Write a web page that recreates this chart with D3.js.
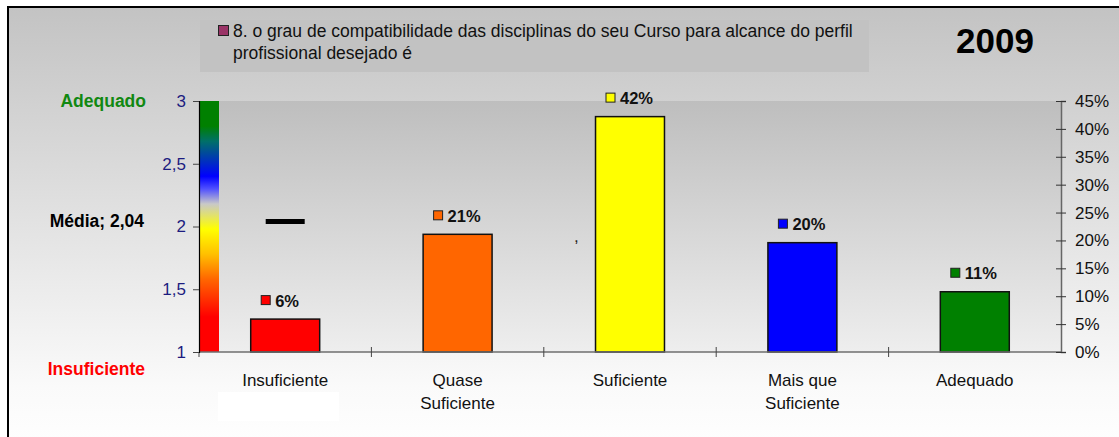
<!DOCTYPE html>
<html>
<head>
<meta charset="utf-8">
<script src="https://cdn.jsdelivr.net/npm/d3@7"></script>
<style>
  html, body { margin: 0; padding: 0; background: #fff; }
  svg { display: block; font-family: "Liberation Sans", Arial, sans-serif; }
</style>
</head>
<body>
<svg id="chart" width="1119" height="437"></svg>
<script>
// ---------- data ----------
const categories = ["Insuficiente", "Quase Suficiente", "Suficiente", "Mais que Suficiente", "Adequado"];
const categoryLines = [["Insuficiente"], ["Quase", "Suficiente"], ["Suficiente"], ["Mais que", "Suficiente"], ["Adequado"]];
const percentValues = [5.9, 21.1, 42.2, 19.6, 10.8];
const barColors = ["#ff0000", "#ff6600", "#ffff00", "#0000ff", "#008000"];
const leftTicks = [1, 1.5, 2, 2.5, 3];
const rightTicks = [0, 5, 10, 15, 20, 25, 30, 35, 40, 45];
const meanValue = 2.04;
const meanLabel = "Média; 2,04";
const topScaleLabel = "Adequado";
const bottomScaleLabel = "Insuficiente";
const legendLines = ["8. o grau de compatibilidade das disciplinas do seu Curso para alcance do perfil", "profissional desejado é"];
const yearLabel = "2009";

// ---------- layout ----------
const svg = d3.select("#chart");
const W = 1119, H = 437;
const plot = { left: 199, right: 1061, top: 101, bottom: 352 };

const defs = svg.append("defs");
const outerGrad = defs.append("linearGradient").attr("id", "outerGrad")
  .attr("x1", 0).attr("y1", 0).attr("x2", 0).attr("y2", 1);
outerGrad.append("stop").attr("offset", "0").attr("stop-color", "#c3c3c3");
outerGrad.append("stop").attr("offset", "0.85").attr("stop-color", "#fafafa");
outerGrad.append("stop").attr("offset", "1").attr("stop-color", "#ffffff");

const plotGrad = defs.append("linearGradient").attr("id", "plotGrad")
  .attr("x1", 0).attr("y1", 0).attr("x2", 0).attr("y2", 1);
plotGrad.append("stop").attr("offset", "0").attr("stop-color", "#bebebe");
plotGrad.append("stop").attr("offset", "1").attr("stop-color", "#eeeeee");

const scaleGrad = defs.append("linearGradient").attr("id", "scaleGrad")
  .attr("x1", 0).attr("y1", 0).attr("x2", 0).attr("y2", 1);
[[0, "#008000"], [0.10, "#008000"], [0.16, "#007068"], [0.30, "#0000ff"], [0.35, "#5050ff"],
 [0.41, "#c8c8c8"], [0.51, "#ffff00"], [0.61, "#ffc000"], [0.71, "#ff6600"], [0.86, "#ff0000"], [1, "#ff0000"]]
  .forEach(([o, c]) => scaleGrad.append("stop").attr("offset", o).attr("stop-color", c));

// background + frame
svg.append("rect").attr("x", 8).attr("y", 7).attr("width", W + 10).attr("height", H + 10)
  .attr("fill", "url(#outerGrad)").attr("stroke", "#000").attr("stroke-width", 2);

// legend box
svg.append("rect").attr("x", 200).attr("y", 20).attr("width", 669).attr("height", 52).attr("fill", "#c2c2c2");
svg.append("rect").attr("x", 218.5).attr("y", 25.5).attr("width", 10).attr("height", 10)
  .attr("fill", "#993366").attr("stroke", "#222").attr("stroke-width", 1);
legendLines.forEach((t, i) => {
  svg.append("text").attr("x", 233).attr("y", 37 + i * 22).attr("font-size", 17.5).attr("fill", "#111").text(t);
});
svg.append("text").attr("x", 995).attr("y", 53).attr("text-anchor", "middle")
  .attr("font-size", 35).attr("font-weight", "bold").attr("fill", "#000").text(yearLabel);

// plot area
svg.append("rect").attr("x", plot.left).attr("y", plot.top)
  .attr("width", plot.right - plot.left).attr("height", plot.bottom - plot.top).attr("fill", "url(#plotGrad)");

// scales
const x = d3.scaleBand().domain(categories).range([plot.left, plot.right]).paddingInner(0.6).paddingOuter(0.3);
const yL = d3.scaleLinear().domain([1, 3]).range([plot.bottom, plot.top]);
const yR = d3.scaleLinear().domain([0, 45]).range([plot.bottom, plot.top]);
const step = x.step();

// colour scale strip
svg.append("rect").attr("x", plot.left).attr("y", yL(3)).attr("width", 20).attr("height", yL(1) - yL(3))
  .attr("fill", "url(#scaleGrad)");

// white artefact under first category label
svg.append("rect").attr("x", 218).attr("y", 392).attr("width", 121).attr("height", 29).attr("fill", "#ffffff");

// bars
svg.selectAll("rect.bar").data(percentValues).join("rect").attr("class", "bar")
  .attr("x", (d, i) => x(categories[i]))
  .attr("y", d => yR(d))
  .attr("width", x.bandwidth())
  .attr("height", d => yR(0) - yR(d))
  .attr("fill", (d, i) => barColors[i])
  .attr("stroke", "#111").attr("stroke-width", 1.5);

// value labels
percentValues.forEach((d, i) => {
  const cx = x(categories[i]) + x.bandwidth() / 2;
  const cy = yR(d) - 18.5;
  const g = svg.append("g");
  g.append("rect").attr("x", cx - 24).attr("y", cy - 5).attr("width", 9).attr("height", 9)
    .attr("fill", barColors[i]).attr("stroke", "#222").attr("stroke-width", 1);
  g.append("text").attr("x", cx - 10).attr("y", cy + 6).attr("font-size", 16.5).attr("font-weight", "bold")
    .attr("fill", "#111").text(Math.round(d) + "%");
});

// mean marker
const mx = x(categories[0]) + x.bandwidth() / 2;
svg.append("line").attr("x1", mx - 19.5).attr("x2", mx + 19.5)
  .attr("y1", yL(meanValue)).attr("y2", yL(meanValue))
  .attr("stroke", "#000").attr("stroke-width", 5);

// x axis line + category ticks
svg.append("line").attr("x1", plot.left).attr("x2", plot.right).attr("y1", plot.bottom).attr("y2", plot.bottom)
  .attr("stroke", "#6e6e6e").attr("stroke-width", 1.5);
d3.range(categories.length).forEach(i => {
  const bx = x(categories[i]) + x.bandwidth() / 2 - step / 2;
  svg.append("line").attr("x1", bx).attr("x2", bx)
    .attr("y1", i === 0 ? plot.bottom : plot.bottom - 5).attr("y2", plot.bottom + 5)
    .attr("stroke", "#444").attr("stroke-width", 1);
});

// category labels
categoryLines.forEach((lines, i) => {
  const cx = x(categories[i]) + x.bandwidth() / 2;
  lines.forEach((t, j) => {
    svg.append("text").attr("x", cx).attr("y", 386 + j * 23).attr("text-anchor", "middle")
      .attr("font-size", 17).attr("fill", "#111").text(t);
  });
});

// left axis
const leftAxis = d3.axisLeft(yL).tickValues(leftTicks).tickSize(6).tickPadding(7)
  .tickFormat(d => String(d).replace(".", ","));
const gL = svg.append("g").attr("transform", `translate(${plot.left},0)`).call(leftAxis);
gL.select(".domain").attr("stroke", "#000").attr("stroke-width", 1.2);
gL.selectAll(".tick line").attr("stroke", "#444");
gL.selectAll(".tick text").attr("font-size", 17).attr("fill", "#1c1c80")
  .attr("font-family", "\"Liberation Sans\", Arial, sans-serif");

// right axis
const rightAxis = d3.axisRight(yR).tickValues(rightTicks).tickSize(5).tickPadding(9).tickFormat(d => d + "%");
const gR = svg.append("g").attr("transform", `translate(${plot.right},0)`).call(rightAxis);
gR.select(".domain").attr("stroke", "#666").attr("stroke-width", 1.5);
gR.selectAll(".tick line").attr("x1", -5).attr("stroke", "#333");
gR.selectAll(".tick text").attr("font-size", 17).attr("fill", "#111")
  .attr("font-family", "\"Liberation Sans\", Arial, sans-serif");

// left-side scale labels
svg.append("text").attr("x", 146).attr("y", yL(3) + 6).attr("text-anchor", "end")
  .attr("font-size", 17.5).attr("font-weight", "bold").attr("fill", "#118811").text(topScaleLabel);
svg.append("text").attr("x", 144).attr("y", yL(meanValue) + 6).attr("text-anchor", "end")
  .attr("font-size", 17.5).attr("font-weight", "bold").attr("fill", "#000").text(meanLabel);
svg.append("text").attr("x", 145).attr("y", 375).attr("text-anchor", "end")
  .attr("font-size", 17.5).attr("font-weight", "bold").attr("fill", "#ff0000").text(bottomScaleLabel);

// stray comma
svg.append("text").attr("x", 574).attr("y", 242).attr("font-size", 17).attr("fill", "#222").text(",");
</script>
</body>
</html>
